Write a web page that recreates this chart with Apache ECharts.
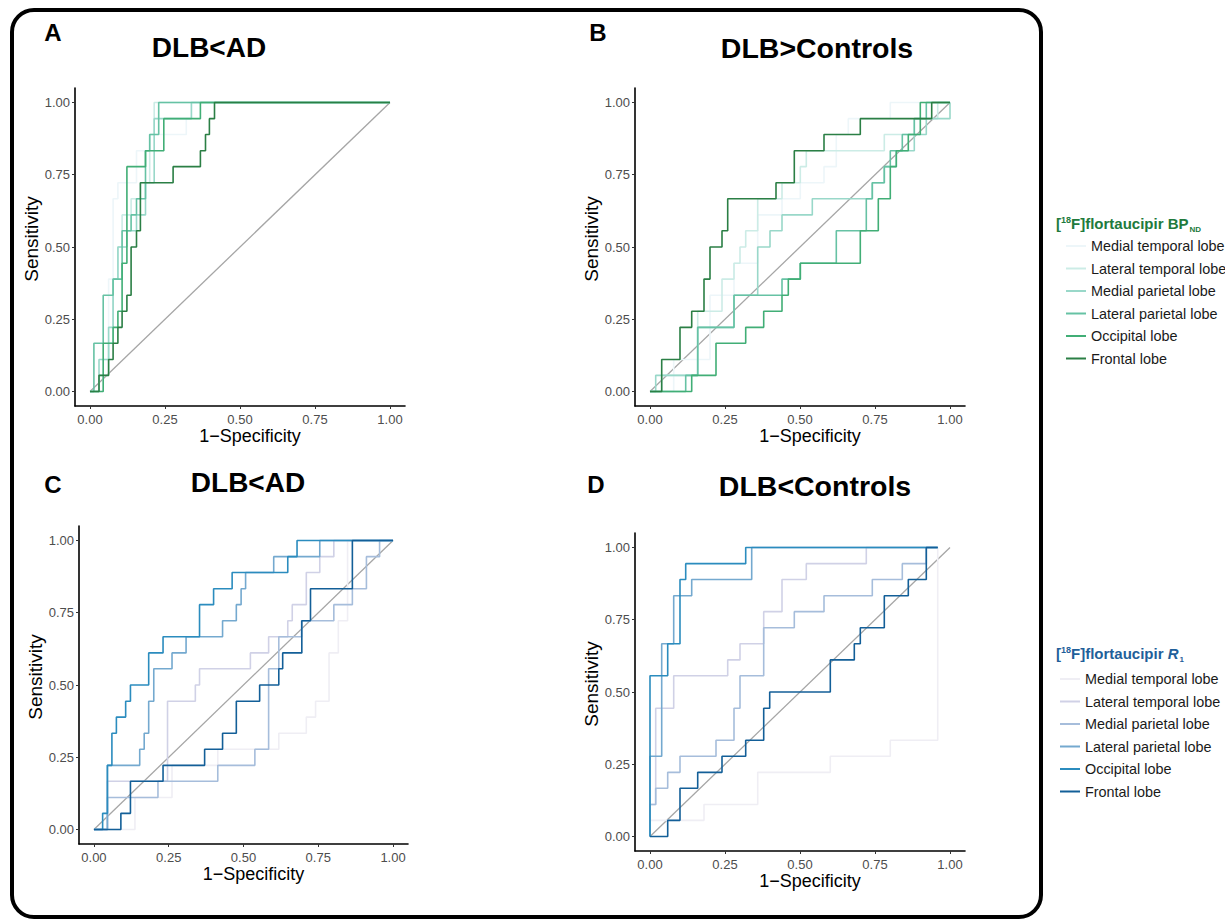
<!DOCTYPE html>
<html>
<head>
<meta charset="utf-8">
<title>ROC curves</title>
<script src="https://cdn.jsdelivr.net/npm/echarts@6.0.0/dist/echarts.min.js"></script>
<style>
  html, body { margin: 0; padding: 0; background: #fff; }
  #chart { width: 1225px; height: 924px; }
</style>
</head>
<body>
<div id="chart"></div>
<script>
// regions shown in both legends
const regions = ['Medial temporal lobe', 'Lateral temporal lobe', 'Medial parietal lobe',
  'Lateral parietal lobe', 'Occipital lobe', 'Frontal lobe'];
const tickValues = [0, 0.25, 0.5, 0.75, 1];
const chance = [[0, 0], [1, 1]];

// ROC points [1-specificity, sensitivity], corners of the step path
// A: DLB<AD, BPnd
const aMedialTemporal = [[0,0],[0.044,0.111],[0.062,0.389],[0.077,0.667],[0.093,0.722],[0.155,0.833],[0.214,0.889],[0.321,0.944],[0.338,1],[1,1]];
const aLateralTemporal = [[0,0],[0.03,0.056],[0.062,0.167],[0.077,0.389],[0.093,0.5],[0.107,0.611],[0.137,0.667],[0.168,0.722],[0.199,0.889],[0.214,1],[1,1]];
const aMedialParietal = [[0,0],[0.03,0.111],[0.062,0.222],[0.077,0.389],[0.093,0.5],[0.123,0.556],[0.155,0.611],[0.185,0.722],[0.214,0.944],[0.338,1],[1,1]];
const aLateralParietal = [[0,0],[0.013,0.167],[0.044,0.333],[0.077,0.389],[0.107,0.556],[0.137,0.611],[0.155,0.667],[0.185,0.833],[0.199,0.889],[0.229,1],[1,1]];
const aOccipital = [[0,0],[0.044,0.167],[0.077,0.222],[0.093,0.278],[0.107,0.444],[0.123,0.778],[0.185,0.833],[0.246,0.944],[0.368,1],[1,1]];
const aFrontal = [[0,0],[0.03,0.056],[0.062,0.111],[0.077,0.167],[0.093,0.222],[0.107,0.278],[0.123,0.333],[0.137,0.5],[0.155,0.556],[0.168,0.722],[0.277,0.778],[0.368,0.833],[0.385,0.889],[0.398,0.944],[0.415,1],[1,1]];

// B: DLB>Controls, BPnd
const bMedialTemporal = [[0,0],[0.079,0.111],[0.2,0.333],[0.28,0.444],[0.359,0.611],[0.44,0.667],[0.501,0.722],[0.58,0.778],[0.621,0.889],[0.661,0.944],[0.801,1],[1,1]];
const bLateralTemporal = [[0,0],[0.039,0.056],[0.159,0.278],[0.24,0.389],[0.28,0.444],[0.3,0.5],[0.319,0.556],[0.359,0.667],[0.44,0.722],[0.501,0.778],[0.521,0.833],[0.781,0.889],[0.881,0.944],[0.959,1],[1,1]];
const bMedialParietal = [[0,0],[0.019,0.056],[0.159,0.222],[0.28,0.333],[0.359,0.5],[0.4,0.556],[0.44,0.611],[0.541,0.667],[0.741,0.722],[0.781,0.778],[0.821,0.833],[0.881,0.889],[0.921,0.944],[1,1]];
const bLateralParietal = [[0,0],[0.119,0.056],[0.159,0.222],[0.28,0.333],[0.44,0.389],[0.501,0.444],[0.621,0.556],[0.721,0.667],[0.741,0.722],[0.781,0.778],[0.801,0.833],[0.841,0.889],[0.881,0.944],[0.921,1],[1,1]];
const bOccipital = [[0,0],[0.139,0.056],[0.22,0.167],[0.319,0.222],[0.379,0.278],[0.44,0.333],[0.461,0.389],[0.501,0.444],[0.701,0.556],[0.761,0.667],[0.801,0.778],[0.821,0.833],[0.861,0.889],[0.901,1],[1,1]];
const bFrontal = [[0,0],[0.039,0.111],[0.1,0.222],[0.139,0.278],[0.18,0.389],[0.2,0.5],[0.24,0.556],[0.259,0.667],[0.42,0.722],[0.481,0.833],[0.58,0.889],[0.701,0.944],[0.939,1],[1,1]];

// C: DLB<AD, R1
const cMedialTemporal = [[0,0],[0.137,0.111],[0.261,0.222],[0.414,0.278],[0.618,0.333],[0.71,0.389],[0.741,0.444],[0.786,0.611],[0.817,0.722],[0.848,1],[1,1]];
const cLateralTemporal = [[0,0],[0.045,0.167],[0.246,0.444],[0.339,0.5],[0.353,0.556],[0.523,0.611],[0.584,0.667],[0.648,0.722],[0.663,0.778],[0.71,0.889],[0.755,0.944],[0.802,1],[1,1]];
const cMedialParietal = [[0,0],[0.045,0.111],[0.214,0.167],[0.414,0.222],[0.538,0.278],[0.584,0.556],[0.618,0.667],[0.694,0.722],[0.802,0.778],[0.864,0.833],[0.911,0.944],[0.955,1],[1,1]];
const cLateralParietal = [[0,0],[0.045,0.222],[0.153,0.278],[0.168,0.333],[0.183,0.444],[0.2,0.556],[0.261,0.611],[0.308,0.667],[0.43,0.722],[0.476,0.778],[0.492,0.833],[0.507,0.889],[0.601,0.944],[0.755,1],[1,1]];
const cOccipital = [[0,0],[0.029,0.056],[0.045,0.222],[0.06,0.333],[0.075,0.389],[0.106,0.444],[0.122,0.5],[0.183,0.611],[0.231,0.667],[0.353,0.778],[0.4,0.833],[0.462,0.889],[0.648,0.944],[0.679,1],[1,1]];
const cFrontal = [[0,0],[0.09,0.056],[0.122,0.167],[0.231,0.222],[0.37,0.278],[0.43,0.333],[0.476,0.444],[0.554,0.5],[0.618,0.556],[0.631,0.611],[0.695,0.722],[0.724,0.833],[0.864,1],[1,1]];

// D: DLB<Controls, R1
const dMedialTemporal = [[0,0],[0,0.056],[0.18,0.111],[0.359,0.222],[0.601,0.278],[0.801,0.333],[0.959,1]];
const dLateralTemporal = [[0,0],[0,0.111],[0.019,0.444],[0.079,0.556],[0.259,0.611],[0.3,0.667],[0.379,0.778],[0.44,0.889],[0.521,0.944],[0.721,1],[0.959,1]];
const dMedialParietal = [[0,0],[0,0.111],[0.019,0.167],[0.059,0.222],[0.1,0.278],[0.22,0.333],[0.28,0.444],[0.3,0.556],[0.379,0.722],[0.481,0.778],[0.58,0.833],[0.741,0.889],[0.841,0.944],[0.921,1],[0.959,1]];
const dLateralParietal = [[0,0],[0,0.278],[0.039,0.667],[0.079,0.833],[0.139,0.889],[0.339,1],[0.959,1]];
const dOccipital = [[0,0],[0,0.556],[0.059,0.667],[0.1,0.889],[0.119,0.944],[0.319,1],[0.959,1]];
const dFrontal = [[0,0],[0.059,0.056],[0.1,0.167],[0.159,0.222],[0.24,0.278],[0.319,0.333],[0.379,0.444],[0.399,0.5],[0.601,0.611],[0.681,0.667],[0.701,0.722],[0.781,0.833],[0.861,0.889],[0.921,1],[0.959,1]];

const greens = ['#edf6f9', '#ccece6', '#99d8c9', '#66c2a4', '#41ae76', '#2b7f45'];
const blues = ['#efeef4', '#d0d1e6', '#a6bddb', '#74a9cf', '#2b8cbe', '#135f98'];
const FONT = '"Liberation Sans", Arial, Helvetica, sans-serif';

const panels = [
  { key: 'BP', colors: greens, grid: { left: 75, top: 88, width: 330, height: 318 },
    curves: [aMedialTemporal, aLateralTemporal, aMedialParietal, aLateralParietal, aOccipital, aFrontal] },
  { key: 'BP', colors: greens, grid: { left: 635, top: 88, width: 330, height: 318 },
    curves: [bMedialTemporal, bLateralTemporal, bMedialParietal, bLateralParietal, bOccipital, bFrontal] },
  { key: 'R1', colors: blues, grid: { left: 79, top: 526, width: 329, height: 318 },
    curves: [cMedialTemporal, cLateralTemporal, cMedialParietal, cLateralParietal, cOccipital, cFrontal] },
  { key: 'R1', colors: blues, grid: { left: 635, top: 533, width: 330, height: 318 },
    curves: [dMedialTemporal, dLateralTemporal, dMedialParietal, dLateralParietal, dOccipital, dFrontal] }
];

const axisCommon = {
  type: 'value', min: -0.05, max: 1.05,
  nameLocation: 'middle',
  axisLine: { show: true, onZero: false, lineStyle: { color: '#000', width: 1.6 } },
  axisTick: { show: true, customValues: tickValues, length: 3, lineStyle: { color: '#333', width: 1 } },
  axisLabel: { customValues: tickValues, formatter: v => v.toFixed(2), color: '#4d4d4d', fontSize: 13, fontFamily: FONT },
  splitLine: { show: false }
};

const grids = [], xAxes = [], yAxes = [], series = [];
panels.forEach((p, i) => {
  grids.push(p.grid);
  xAxes.push(Object.assign({}, axisCommon, {
    gridIndex: i, name: '1\u2212Specificity', nameGap: 20,
    nameTextStyle: { fontSize: 18, color: '#000', fontFamily: FONT, padding: [0, 0, 0, 20] },
    axisLabel: Object.assign({}, axisCommon.axisLabel, { margin: 7 })
  }));
  yAxes.push(Object.assign({}, axisCommon, {
    gridIndex: i, name: 'Sensitivity', nameGap: 34,
    nameTextStyle: { fontSize: 19, color: '#000', fontFamily: FONT, padding: [0, 0, 0, 16] },
    axisLabel: Object.assign({}, axisCommon.axisLabel, { margin: 5 })
  }));
  series.push({
    type: 'line', name: 'chance', xAxisIndex: i, yAxisIndex: i, data: chance,
    showSymbol: false, silent: true, lineStyle: { color: '#a6a6a6', width: 1.3 }, z: 1
  });
  p.curves.forEach((c, j) => {
    series.push({
      type: 'line', name: p.key + '|' + regions[j], xAxisIndex: i, yAxisIndex: i,
      data: c, step: 'end', showSymbol: false, clip: false,
      itemStyle: { color: p.colors[j] },
      lineStyle: { color: p.colors[j], width: 1.6 },
      z: 2 + j
    });
  });
});

const titleText = (text, x, y, size) => ({
  text: text, left: x, top: y, textAlign: 'center',
  textStyle: { fontSize: size, fontWeight: 'bold', color: '#000', fontFamily: FONT }
});

const legendTitleRich = color => ({
  t: { fontSize: 15, fontWeight: 'bold', color: color, fontFamily: FONT, lineHeight: 22 },
  ti: { fontSize: 15, fontWeight: 'bold', fontStyle: 'italic', color: color, fontFamily: FONT, lineHeight: 22 },
  s: { fontSize: 9, fontWeight: 'bold', color: color, fontFamily: FONT, verticalAlign: 'top', padding: [3, 0, 0, 0] },
  d: { fontSize: 8, fontWeight: 'bold', color: color, fontFamily: FONT, verticalAlign: 'bottom', padding: [0, 0, 1, 1] }
});

const legendCommon = {
  orient: 'vertical', icon: 'rect', itemWidth: 20, itemHeight: 2, itemGap: 8.5,
  selectedMode: false, formatter: n => n.split('|')[1],
  textStyle: { fontSize: 14.4, color: '#1a1a1a', fontFamily: FONT }
};

const chart = echarts.init(document.getElementById('chart'), null, { renderer: 'svg' });
chart.setOption({
  backgroundColor: '#fff',
  animation: false,
  title: [
    titleText('A', 48, 15, 24),
    titleText('B', 593, 15, 24),
    titleText('C', 48, 467, 24),
    titleText('D', 591, 467, 24),
    titleText('DLB<AD', 204, 28, 28),
    titleText('DLB>Controls', 812, 28, 28.5),
    titleText('DLB<AD', 243, 463, 28),
    titleText('DLB<Controls', 810, 466, 28.5),
    { left: 1051, top: 207, text: '{t|[}{s|18}{t|F]flortaucipir BP}{d|ND}',
      textStyle: { rich: legendTitleRich('#217a3c') } },
    { left: 1051, top: 637, text: '{t|[}{s|18}{t|F]flortaucipir }{ti|R}{d|1}',
      textStyle: { rich: legendTitleRich('#1f5f9a') } }
  ],
  legend: [
    Object.assign({}, legendCommon, { left: 1061, top: 234, data: regions.map(r => 'BP|' + r) }),
    Object.assign({}, legendCommon, { left: 1055, top: 667, data: regions.map(r => 'R1|' + r) })
  ],
  grid: grids,
  xAxis: xAxes,
  yAxis: yAxes,
  series: series,
  graphic: [{
    type: 'rect', silent: true, z: 100,
    shape: { x: 12, y: 10, width: 1029, height: 907, r: 22 },
    style: { fill: 'none', stroke: '#000', lineWidth: 4 }
  }]
});
</script>
</body>
</html>
